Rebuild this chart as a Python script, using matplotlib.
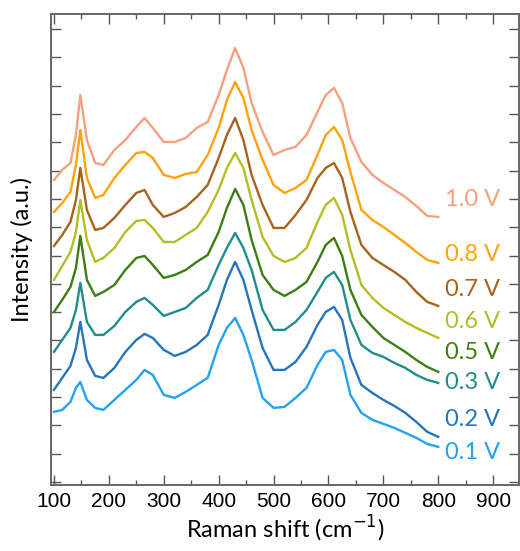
import numpy as np
import matplotlib
matplotlib.use('Agg')
import matplotlib.pyplot as plt
from matplotlib.ticker import MultipleLocator

# Raman shift grid (cm-1)
shift = [100, 115, 130, 140, 148, 160, 175, 190, 210, 230, 250, 265, 280, 300,
         320, 340, 360, 380, 400, 415, 430, 445, 460, 480, 500, 520, 540, 560,
         580, 595, 610, 625, 640, 660, 680, 700, 720, 740, 760, 780, 800]

# intensities (a.u., stacked as in the figure)
v10 = [302, 312, 319, 347, 387, 342, 319, 317, 332, 342, 355, 364, 354, 340,
       340, 344, 354, 360, 387, 412, 434, 414, 379, 350, 327, 332, 335, 347,
       370, 387, 394, 379, 344, 320, 307, 299, 292, 285, 276, 266, 265]
v08 = [270, 279, 290, 317, 352, 304, 284, 287, 304, 317, 329, 330, 324, 307,
       304, 308, 310, 327, 354, 382, 400, 384, 352, 322, 297, 289, 294, 302,
       327, 347, 355, 342, 310, 272, 262, 255, 247, 239, 230, 222, 219]
v07 = [236, 247, 260, 282, 314, 272, 252, 254, 264, 277, 289, 292, 277, 265,
       269, 275, 285, 297, 324, 347, 364, 342, 307, 277, 254, 254, 267, 282,
       304, 314, 319, 304, 270, 237, 224, 217, 210, 202, 190, 180, 176]
v06 = [202, 216, 230, 250, 282, 242, 220, 224, 234, 250, 261, 262, 254, 240,
       240, 247, 254, 270, 292, 314, 329, 314, 282, 245, 226, 220, 224, 234,
       260, 277, 284, 267, 232, 197, 184, 174, 167, 160, 154, 149, 144]
v05 = [170, 182, 195, 214, 246, 202, 186, 190, 197, 212, 224, 226, 217, 204,
       207, 212, 220, 227, 250, 274, 293, 277, 242, 207, 192, 186, 192, 200,
       220, 237, 244, 226, 192, 167, 155, 144, 137, 130, 122, 115, 110]
v03 = [130, 142, 154, 172, 199, 160, 147, 147, 156, 170, 180, 184, 177, 166,
       170, 174, 184, 192, 217, 234, 249, 234, 212, 172, 152, 152, 160, 172,
       190, 204, 210, 197, 162, 137, 129, 125, 119, 114, 107, 102, 99]
v02 = [92, 104, 116, 134, 160, 122, 106, 104, 114, 130, 142, 148, 144, 132,
       126, 130, 137, 147, 177, 202, 220, 202, 172, 134, 112, 112, 120, 135,
       157, 170, 175, 162, 124, 97, 89, 82, 76, 69, 60, 50, 45]
v01 = [70, 72, 80, 94, 100, 82, 74, 72, 82, 92, 102, 112, 107, 87,
       84, 90, 97, 104, 137, 154, 164, 147, 122, 84, 74, 75, 84, 94,
       117, 130, 132, 122, 87, 69, 62, 58, 54, 49, 44, 38, 35]

labels = ['1.0 V', '0.8 V', '0.7 V', '0.6 V', '0.5 V', '0.3 V', '0.2 V', '0.1 V']
series = [v10, v08, v07, v06, v05, v03, v02, v01]
colors = ['#F7A07E', '#FFA20A', '#A7631C', '#B4BE22', '#3C7E12',
          '#1E8E8A', '#2476BC', '#23A2F0']
label_y = [282, 227, 192, 160, 129, 99, 62, 29]

fig = plt.figure(figsize=(5.2, 5.51), dpi=100)
ax = fig.add_axes([0.098, 0.12, 0.9, 0.8546])

for vals, c in zip(series, colors):
    ax.plot(shift, vals, color=c, lw=1.7)

for lab, c, y in zip(labels, colors, label_y):
    ax.text(813, y, lab, color=c, fontsize=17, va='center', ha='left',
            family='Lato')

ax.set_xlim(94.5, 947)
ax.set_ylim(-3, 468)
ax.xaxis.set_major_locator(MultipleLocator(100))
ax.xaxis.set_minor_locator(MultipleLocator(50))
ax.set_yticks(np.arange(0, 460, 28.3))
ax.set_yticklabels([])
ax.tick_params(which='both', direction='in', top=True, right=True,
               color='#555555', labelsize=15)
ax.tick_params(which='major', length=7, width=1, pad=5)
ax.tick_params(which='minor', length=3.5, width=1)
for lbl in ax.get_xticklabels():
    lbl.set_family('Liberation Sans')
for s in ax.spines.values():
    s.set_color('#666666')
    s.set_linewidth(1.4)

ax.set_xlabel('Raman shift (cm$^{-1}$)', fontsize=17, family='Lato', labelpad=2)
ax.set_ylabel('Intensity (a.u.)', fontsize=17, family='Lato', labelpad=8)

fig.savefig('out.png', dpi=100)
